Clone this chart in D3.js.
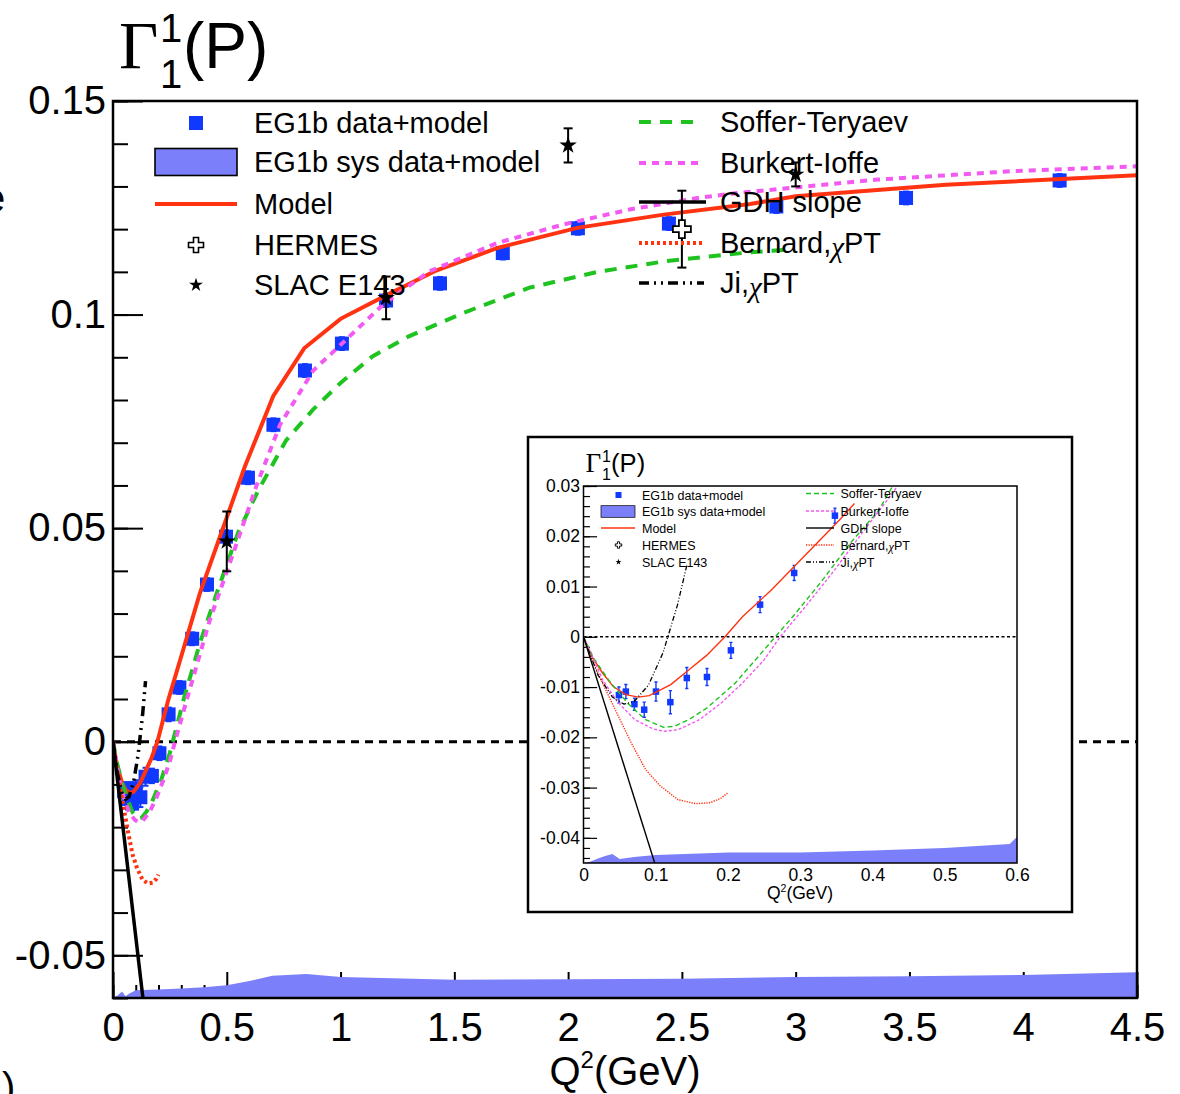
<!DOCTYPE html>
<html>
<head>
<meta charset="utf-8">
<script src="https://cdn.jsdelivr.net/npm/d3@7"></script>
<style>
  body { margin: 0; background: #fff; }
  svg { display: block; }
  text { font-family: "Liberation Sans", Arial, Helvetica, sans-serif; fill: #000; }
</style>
</head>
<body>
<svg id="chart" width="1180" height="1094"></svg>
<script>
// ---- EG1b proton data: Q2 (GeV^2), Gamma_1, statistical error ----
const eg1bQ2  = [0.049, 0.0586, 0.0705, 0.084, 0.1003, 0.1202, 0.143, 0.1709, 0.204, 0.2444, 0.2916, 0.348,
                 0.413, 0.4965, 0.593, 0.705, 0.8436, 1.006, 1.2, 1.437, 1.713, 2.043, 2.443, 2.915, 3.485, 4.16];
const eg1bVal = [-0.0116, -0.0109, -0.0134, -0.0145, -0.0109, -0.0130, -0.0082, -0.0080, -0.0027, 0.0064, 0.0127, 0.0241,
                 0.0368, 0.0480, 0.0618, 0.0742, 0.0869, 0.0932, 0.1033, 0.1073, 0.1144, 0.1202, 0.1213, 0.1253, 0.1273, 0.1314];
const eg1bErr = [0.0016, 0.0014, 0.0012, 0.0015, 0.0019, 0.0023, 0.0021, 0.0017, 0.0016, 0.0016, 0.0015, 0.0015,
                 0.0015, 0.0015, 0.0015, 0.0015, 0.0015, 0.0015, 0.0015, 0.0015, 0.0015, 0.0015, 0.0015, 0.0015, 0.0015, 0.0015];

// ---- other experiments ----
const slacQ2  = [0.5, 1.2, 2.0, 3.0];
const slacVal = [0.0469, 0.1039, 0.1396, 0.1328];
const slacErr = [0.0070, 0.0050, 0.0040, 0.0028];
const hermesQ2  = [2.5];
const hermesVal = [0.1200];
const hermesErr = [0.0090];

// ---- systematic band (upper edge; band starts at the bottom of the frame) ----
const sysBandMain = [[0,-0.0599],[0.02,-0.0594],[0.04,-0.0585],[0.055,-0.0596],[0.07,-0.0590],[0.1,-0.0582],[0.2,-0.0580],
  [0.3,-0.0578],[0.4,-0.0575],[0.5,-0.0570],[0.6,-0.0560],[0.7,-0.0548],[0.85,-0.0544],[1.0,-0.0551],[1.5,-0.0557],
  [2.0,-0.0556],[2.5,-0.0555],[3.0,-0.0551],[3.5,-0.0549],[4.0,-0.0546],[4.5,-0.0540]];
const sysBandInset = [[0,-0.0450],[0.01,-0.0447],[0.02,-0.0441],[0.03,-0.0436],[0.04,-0.0432],[0.05,-0.0442],[0.07,-0.0438],
  [0.1,-0.0434],[0.2,-0.0429],[0.3,-0.0429],[0.4,-0.0425],[0.5,-0.0420],[0.59,-0.0412],[0.6,-0.0398]];

// ---- model and theory curves ----
const modelMain = [[0,0],[0.0114,-0.0039],[0.0263,-0.0072],[0.0412,-0.0099],[0.0586,-0.0115],[0.076,-0.0120],[0.091,-0.0117],
  [0.1207,-0.0095],[0.1456,-0.0066],[0.1704,-0.0037],[0.1952,0.0],[0.243,0.0098],[0.30,0.0200],[0.382,0.0348],[0.50,0.0525],
  [0.58,0.0645],[0.704,0.0809],[0.84,0.0921],[1.0,0.0990],[1.2,0.1045],[1.42,0.1103],[1.69,0.1156],[2.04,0.1203],
  [2.42,0.1234],[2.8,0.1259],[3.0,0.1277],[3.66,0.1304],[4.5,0.1326]];
const modelInset = [[0,0],[0.0114,-0.0039],[0.0263,-0.0072],[0.0412,-0.0099],[0.0586,-0.0115],[0.076,-0.0120],[0.091,-0.0117],
  [0.1207,-0.0095],[0.1456,-0.0066],[0.1704,-0.0037],[0.1952,-0.0001],[0.22,0.0040],[0.26,0.0093],[0.3095,0.0166],
  [0.354,0.0232],[0.375,0.0265]];

const sofferMain = [[0,0],[0.015,-0.0045],[0.0363,-0.0089],[0.0611,-0.0132],[0.0859,-0.0165],[0.1108,-0.0180],[0.1257,-0.0178],
  [0.1456,-0.0165],[0.1704,-0.0142],[0.2101,-0.0092],[0.2499,-0.0026],[0.31,0.0098],[0.382,0.0231],[0.456,0.0348],
  [0.55,0.0490],[0.64,0.0590],[0.76,0.0705],[0.88,0.0778],[1.0,0.0840],[1.14,0.0902],[1.3,0.0949],[1.54,0.1004],
  [1.83,0.1063],[2.13,0.1100],[2.43,0.1125],[2.8,0.1146],[2.97,0.1152]];
const sofferInset = [[0,0],[0.015,-0.0045],[0.0363,-0.0089],[0.0611,-0.0132],[0.0859,-0.0165],[0.1108,-0.0180],[0.1257,-0.0178],
  [0.1456,-0.0165],[0.1704,-0.0142],[0.2101,-0.0092],[0.2499,-0.0026],[0.2896,0.0040],[0.3294,0.0110],[0.3691,0.0186],
  [0.4088,0.0252],[0.4287,0.0302],[0.44,0.0322]];

const burkertMain = [[0,0],[0.0263,-0.0085],[0.0462,-0.0128],[0.071,-0.0165],[0.0959,-0.0183],[0.1108,-0.0188],[0.1306,-0.0185],
  [0.1605,-0.0165],[0.1903,-0.0132],[0.2201,-0.0092],[0.2499,-0.0046],[0.2722,0.0],[0.324,0.0098],[0.426,0.0286],
  [0.529,0.0442],[0.631,0.0600],[0.734,0.0742],[0.88,0.0869],[1.006,0.0932],[1.19,0.1025],[1.39,0.1101],[1.69,0.1168],
  [1.98,0.1211],[2.27,0.1246],[2.57,0.1273],[2.75,0.1285],[3.36,0.1316],[3.96,0.1336],[4.5,0.1347]];
const burkertInset = [[0,0],[0.0263,-0.0085],[0.0462,-0.0128],[0.071,-0.0165],[0.0959,-0.0183],[0.1108,-0.0188],[0.1306,-0.0185],
  [0.1605,-0.0165],[0.1903,-0.0132],[0.2201,-0.0092],[0.2499,-0.0046],[0.2722,0.0],[0.3095,0.0064],[0.3492,0.0136],
  [0.389,0.0213],[0.4188,0.0269],[0.44,0.0310]];

const bernardChPT = [[0,0],[0.01,-0.0040],[0.0263,-0.0092],[0.0462,-0.0152],[0.0661,-0.0211],[0.0859,-0.0264],[0.1058,-0.0296],
  [0.1306,-0.0324],[0.1555,-0.0332],[0.1754,-0.0330],[0.1903,-0.0321],[0.1992,-0.0311]];
const jiChPT = [[0,0],[0.02,-0.0076],[0.04,-0.0120],[0.056,-0.0134],[0.07,-0.0129],[0.09,-0.0096],[0.11,-0.0032],
  [0.13,0.0063],[0.143,0.0142]];
const gdhSlope = [[0,0],[0.14,-0.0639]];

// ---- tick labels ----
const mainXTicks = [0, 0.5, 1, 1.5, 2, 2.5, 3, 3.5, 4, 4.5];
const mainXLabels = ["0", "0.5", "1", "1.5", "2", "2.5", "3", "3.5", "4", "4.5"];
const mainYTicks = [-0.05, 0, 0.05, 0.1, 0.15];
const mainYLabels = ["-0.05", "0", "0.05", "0.1", "0.15"];
const insetXTicks = [0, 0.1, 0.2, 0.3, 0.4, 0.5, 0.6];
const insetXLabels = ["0", "0.1", "0.2", "0.3", "0.4", "0.5", "0.6"];
const insetYTicks = [-0.04, -0.03, -0.02, -0.01, 0, 0.01, 0.02, 0.03];
const insetYLabels = ["-0.04", "-0.03", "-0.02", "-0.01", "0", "0.01", "0.02", "0.03"];

// ---- legend entries ----
const legendLeft = ["EG1b data+model", "EG1b sys data+model", "Model", "HERMES", "SLAC E143"];
const legendRight = ["Soffer-Teryaev", "Burkert-Ioffe", "GDH slope", "Bernard,", "Ji,"];

// ---- styling ----
const C = {
  data: "#1038ff", band: "#7b7ffa", model: "#ff3311", soffer: "#1fc31f",
  burkert: "#f25af2", bernard: "#ff3311", black: "#000"
};

const svg = d3.select("#chart");
const defs = svg.append("defs");

// ================= main panel =================
const x = d3.scaleLinear().domain([0, 4.5]).range([113, 1137]);
const y = d3.scaleLinear().domain([-0.06, 0.15]).range([998, 101]);

defs.append("clipPath").attr("id", "clipMain").append("rect")
  .attr("x", 113).attr("y", 101).attr("width", 1024).attr("height", 897);

function styleAxis(g, size) {
  g.select(".domain").remove();
  g.attr("font-size", size).attr("font-family", '"Liberation Sans", Arial, Helvetica, sans-serif');
  g.selectAll("line").attr("stroke", "#000").attr("stroke-width", 2);
  g.selectAll("text").attr("fill", "#000");
}

// main axes (ticks sit beneath the systematic band)
svg.append("g").attr("transform", "translate(113,0)")
  .call(d3.axisLeft(y).tickValues(d3.range(-6, 16).map(v => v / 100)).tickSize(-15).tickFormat(""))
  .call(g => styleAxis(g, 10));
svg.append("g").attr("transform", "translate(113,0)")
  .call(d3.axisLeft(y).tickValues(mainYTicks).tickSize(-30).tickPadding(7)
    .tickFormat((d, i) => mainYLabels[i]))
  .call(g => styleAxis(g, 40));
svg.append("g").attr("transform", "translate(0,998)")
  .call(d3.axisBottom(x).tickValues(d3.range(0, 46).map(v => v / 10)).tickSize(-13).tickFormat(""))
  .call(g => styleAxis(g, 10));
svg.append("g").attr("transform", "translate(0,998)")
  .call(d3.axisBottom(x).tickValues(mainXTicks).tickSize(-26).tickPadding(15)
    .tickFormat((d, i) => mainXLabels[i]))
  .call(g => styleAxis(g, 40));

function drawPanel(g, sx, sy, opt) {
  const line = d3.line().x(d => sx(d[0])).y(d => sy(d[1]));
  const area = d3.area().x(d => sx(d[0])).y0(sy.range()[0]).y1(d => sy(d[1]));
  const lw = opt.lw;

  // systematic band
  g.append("path").datum(opt.band).attr("d", area).attr("fill", C.band).attr("stroke", "none");

  // zero line
  g.append("line").attr("x1", sx.range()[0]).attr("x2", sx.range()[1])
    .attr("y1", sy(0)).attr("y2", sy(0))
    .attr("stroke", "#000").attr("stroke-width", opt.zeroW).attr("stroke-dasharray", opt.zeroDash);

  // EG1b points with error bars
  const pts = eg1bQ2.map((q, i) => ({q, v: eg1bVal[i], e: eg1bErr[i]}));
  const eb = g.append("g").attr("stroke", C.data).attr("stroke-width", opt.ebW);
  eb.selectAll("line.v").data(pts).join("line")
    .attr("x1", d => sx(d.q)).attr("x2", d => sx(d.q))
    .attr("y1", d => sy(d.v - d.e)).attr("y2", d => sy(d.v + d.e));
  eb.selectAll("line.t").data(pts.flatMap(d => [d.v - d.e, d.v + d.e].map(v => ({q: d.q, v})))).join("line")
    .attr("x1", d => sx(d.q) - opt.cap).attr("x2", d => sx(d.q) + opt.cap)
    .attr("y1", d => sy(d.v)).attr("y2", d => sy(d.v));
  g.append("g").selectAll("rect").data(pts).join("rect")
    .attr("x", d => sx(d.q) - opt.sq / 2).attr("y", d => sy(d.v) - opt.sq / 2)
    .attr("width", opt.sq).attr("height", opt.sq).attr("fill", C.data);

  // curves
  const curves = [
    {d: opt.model, c: C.model, dash: null, w: lw},
    {d: opt.soffer, c: C.soffer, dash: opt.dashSoffer, w: lw},
    {d: opt.burkert, c: C.burkert, dash: opt.dashBurkert, w: lw},
    {d: bernardChPT, c: C.bernard, dash: opt.dashBernard, w: lw},
    {d: jiChPT, c: C.black, dash: opt.dashJi, w: opt.jiW},
    {d: gdhSlope, c: C.black, dash: null, w: opt.gdhW}
  ];
  curves.forEach(cv => {
    g.append("path").datum(cv.d).attr("d", line).attr("fill", "none")
      .attr("stroke", cv.c).attr("stroke-width", cv.w)
      .attr("stroke-dasharray", cv.dash);
  });

  // SLAC E143 and HERMES points
  const ex = g.append("g").attr("stroke", "#000").attr("stroke-width", opt.ebW);
  const others = slacQ2.map((q, i) => ({q, v: slacVal[i], e: slacErr[i]}))
    .concat(hermesQ2.map((q, i) => ({q, v: hermesVal[i], e: hermesErr[i]})));
  others.forEach(d => {
    ex.append("line").attr("x1", sx(d.q)).attr("x2", sx(d.q)).attr("y1", sy(d.v - d.e)).attr("y2", sy(d.v + d.e));
    [d.v - d.e, d.v + d.e].forEach(v => ex.append("line")
      .attr("x1", sx(d.q) - opt.cap2).attr("x2", sx(d.q) + opt.cap2).attr("y1", sy(v)).attr("y2", sy(v)));
  });
  g.append("g").selectAll("path").data(slacQ2.map((q, i) => [q, slacVal[i]])).join("path")
    .attr("transform", d => `translate(${sx(d[0])},${sy(d[1])})`)
    .attr("d", d3.symbol(d3.symbolStar, opt.star)).attr("fill", "#000");
  g.append("g").selectAll("path").data(hermesQ2.map((q, i) => [q, hermesVal[i]])).join("path")
    .attr("transform", d => `translate(${sx(d[0])},${sy(d[1])})`)
    .attr("d", d3.symbol(d3.symbolCross, opt.cross)).attr("fill", "#fff")
    .attr("stroke", "#000").attr("stroke-width", opt.crossW);
}

const gMain = svg.append("g").attr("clip-path", "url(#clipMain)");
drawPanel(gMain, x, y, {
  band: sysBandMain, model: modelMain, soffer: sofferMain, burkert: burkertMain,
  lw: 4, jiW: 3.5, gdhW: 3.5, zeroW: 3, zeroDash: "8,6",
  dashSoffer: "12,9", dashBurkert: "7,6", dashBernard: "3,3", dashJi: "10,5,2,5,2,5",
  ebW: 2, cap: 3, cap2: 4.5, sq: 14, star: 95, cross: 180, crossW: 1.8
});

svg.append("rect").attr("x", 113).attr("y", 101).attr("width", 1024).attr("height", 897)
  .attr("fill", "none").attr("stroke", "#000").attr("stroke-width", 2.5);

// axis title
const xt = svg.append("text").attr("x", 625).attr("y", 1085).attr("text-anchor", "middle").attr("font-size", 40);
xt.append("tspan").text("Q");
xt.append("tspan").attr("font-size", 24).attr("dy", -17).text("2");
xt.append("tspan").attr("dy", 17).text("(GeV)");

// title Γ_1^1(P)
function title(g, x0, base, s) {
  g.append("text").attr("x", x0).attr("y", base).attr("font-size", 68 * s)
    .style("font-family", '"Liberation Serif", "Times New Roman", serif').text("Γ");
  g.append("text").attr("x", x0 + 41 * s).attr("y", base - 26 * s).attr("font-size", 40 * s).text("1");
  g.append("text").attr("x", x0 + 41 * s).attr("y", base + 20 * s).attr("font-size", 40 * s).text("1");
  g.append("text").attr("x", x0 + 64 * s).attr("y", base).attr("font-size", 64 * s).text("(P)");
}
title(svg, 119, 68, 1);

// ================= main legend =================
function legend(g, o) {
  const s = o.s;
  // left column
  legendLeft.forEach((t, i) => {
    g.append("text").attr("x", o.lx).attr("y", o.ly[i]).attr("dy", "0.36em").attr("font-size", o.fs).text(t);
  });
  g.append("rect").attr("x", o.sx - 7 * s).attr("y", o.ly[0] - 7 * s).attr("width", 14 * s).attr("height", 14 * s).attr("fill", C.data);
  g.append("rect").attr("x", o.bx0).attr("y", o.ly[1] - 13.5 * s).attr("width", o.bx1 - o.bx0).attr("height", 27 * s)
    .attr("fill", C.band).attr("stroke", "#000").attr("stroke-width", 1.6 * s);
  g.append("line").attr("x1", o.bx0).attr("x2", o.bx1).attr("y1", o.ly[2]).attr("y2", o.ly[2])
    .attr("stroke", C.model).attr("stroke-width", o.lw);
  g.append("path").attr("transform", `translate(${o.sx},${o.ly[3]})`).attr("d", d3.symbol(d3.symbolCross, 125 * s * s))
    .attr("fill", "#fff").attr("stroke", "#000").attr("stroke-width", 1.6 * Math.max(s, 0.6));
  g.append("path").attr("transform", `translate(${o.sx},${o.ly[4]})`).attr("d", d3.symbol(d3.symbolStar, 60 * s * s))
    .attr("fill", "#000");
  // right column
  const styles = [
    {c: C.soffer, dash: o.dashSoffer, w: o.lw},
    {c: C.burkert, dash: o.dashBurkert, w: o.lw},
    {c: "#000", dash: null, w: o.gdhW},
    {c: C.bernard, dash: o.dashBernard, w: o.lw},
    {c: "#000", dash: o.dashJi, w: o.jiW}
  ];
  styles.forEach((st, i) => {
    g.append("line").attr("x1", o.rx0).attr("x2", o.rx1[i]).attr("y1", o.ry[i]).attr("y2", o.ry[i])
      .attr("stroke", st.c).attr("stroke-width", st.w).attr("stroke-dasharray", st.dash);
    const t = g.append("text").attr("x", o.rtx).attr("y", o.ry[i]).attr("dy", "0.36em").attr("font-size", o.fs);
    t.append("tspan").text(legendRight[i]);
    if (i >= 3) {
      t.append("tspan").style("font-family", '"Liberation Serif", "Times New Roman", serif')
        .attr("font-style", "italic").attr("dy", "0.12em").text("χ");
      t.append("tspan").attr("dy", "-0.12em").text("PT");
    }
  });
}
legend(svg.append("g"), {
  s: 1, fs: 29, lx: 254, sx: 196, bx0: 155, bx1: 237, ly: [123, 162, 204, 245, 285],
  rx0: 639, rx1: [698, 700, 706, 702, 704], rtx: 720, ry: [122, 163, 202, 243, 283],
  lw: 4, gdhW: 3.5, jiW: 3.5, dashSoffer: "12,9", dashBurkert: "7,6", dashBernard: "3,3", dashJi: "10,5,2,5,2,5"
});

// ================= inset (low Q2 zoom) =================
svg.append("rect").attr("x", 528).attr("y", 437).attr("width", 544).attr("height", 475)
  .attr("fill", "#fff").attr("stroke", "#000").attr("stroke-width", 2.5);

const xi = d3.scaleLinear().domain([0, 0.6]).range([583.5, 1017]);
const yi = d3.scaleLinear().domain([-0.045, 0.03]).range([863, 486]);
defs.append("clipPath").attr("id", "clipInset").append("rect")
  .attr("x", 583.5).attr("y", 486).attr("width", 433.5).attr("height", 377);

svg.append("g").attr("transform", "translate(583.5,0)")
  .call(d3.axisLeft(yi).tickValues(d3.range(-22, 16).map(v => v / 500)).tickSize(-6.5).tickFormat(""))
  .call(g => { styleAxis(g, 10); g.selectAll("line").attr("stroke-width", 1.2); });
svg.append("g").attr("transform", "translate(583.5,0)")
  .call(d3.axisLeft(yi).tickValues(insetYTicks).tickSize(-13.6).tickPadding(3.5)
    .tickFormat((d, i) => insetYLabels[i]))
  .call(g => { styleAxis(g, 17.5); g.selectAll("line").attr("stroke-width", 1.2); });
svg.append("g").attr("transform", "translate(0,863)")
  .call(d3.axisBottom(xi).tickValues(insetXTicks).tickSize(0).tickPadding(5.5)
    .tickFormat((d, i) => insetXLabels[i]))
  .call(g => styleAxis(g, 17.5));

const gIn = svg.append("g").attr("clip-path", "url(#clipInset)");
drawPanel(gIn, xi, yi, {
  band: sysBandInset, model: modelInset, soffer: sofferInset, burkert: burkertInset,
  lw: 1.4, jiW: 1.3, gdhW: 1.4, zeroW: 1.5, zeroDash: "3,2.5",
  dashSoffer: "5,3", dashBurkert: "3,2", dashBernard: "1.3,1.2", dashJi: "5,2,1,2,1,2",
  ebW: 1.4, cap: 1.6, cap2: 2, sq: 6.5, star: 14, cross: 35, crossW: 1
});

svg.append("rect").attr("x", 583.5).attr("y", 486).attr("width", 433.5).attr("height", 377)
  .attr("fill", "none").attr("stroke", "#000").attr("stroke-width", 1.5);

const xti = svg.append("text").attr("x", 800).attr("y", 899).attr("text-anchor", "middle").attr("font-size", 17.5);
xti.append("tspan").text("Q");
xti.append("tspan").attr("font-size", 10.5).attr("dy", -7.5).text("2");
xti.append("tspan").attr("dy", 7.5).text("(GeV)");

title(svg, 585.5, 472, 0.4);

legend(svg.append("g"), {
  s: 0.43, fs: 12.5, lx: 642, sx: 618.5, bx0: 601, bx1: 635, ly: [495, 511.5, 528, 545, 562],
  rx0: 806, rx1: [834, 834, 834, 834, 834], rtx: 840.5, ry: [493.5, 511, 528, 545, 562],
  lw: 1.4, gdhW: 1.4, jiW: 1.3, dashSoffer: "5,3", dashBurkert: "3,2", dashBernard: "1.3,1.2", dashJi: "5,2,1,2,1,2"
});

// glyphs of neighbouring labels at the page edge
svg.append("text").attr("x", -17).attr("y", 212).attr("font-size", 40).text("e");
svg.append("text").attr("x", 2).attr("y", 1101).attr("font-size", 40).text(")");
</script>
</body>
</html>
